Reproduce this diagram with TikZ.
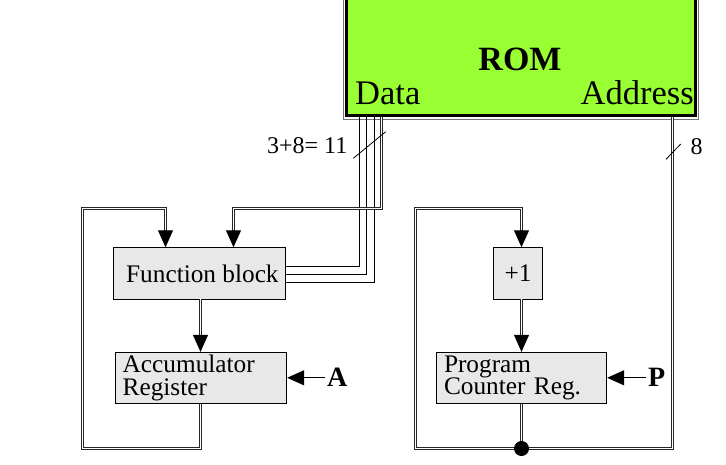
\documentclass[tikz,border=0pt]{standalone}
\usepackage{fontspec}
\setmainfont{Liberation Serif}
\usetikzlibrary{arrows.meta,calc}
\definecolor{romgreen}{RGB}{153,255,51}
\definecolor{boxgray}{RGB}{232,232,232}
\begin{document}
\begin{tikzpicture}[x=1pt,y=-1pt,
  blk/.style={draw=black, line width=0.9pt, fill=boxgray, inner sep=0pt, font=\fontsize{25.3}{22.3}\selectfont},
  bus/.style={draw=black!85, line width=1pt, double=white, double distance=1pt},
  wire/.style={draw=black, line width=1pt},
  tip/.style={line width=1pt, -{Triangle[length=17pt,width=15pt]}},
  lbl/.style={inner sep=0pt, font=\fontsize{24}{24}\selectfont},
  sig/.style={inner sep=0pt, font=\fontsize{28}{28}\selectfont\bfseries},
  slash/.style={draw=black, line width=0.8pt}
  ]
\path[use as bounding box] (0,0) rectangle (726,464);

% ROM
\draw[black!55, line width=0.9pt, fill=white] (343.3,-10) rectangle (698.5,119);
\node[draw=black, line width=3pt, fill=romgreen, minimum width=349.5pt, minimum height=125pt, inner sep=0pt] (rom) at (520.75,52.5) {};
\node[anchor=base, inner sep=0pt, font=\fontsize{34}{34}\selectfont\bfseries] (romlbl) at (520,70) {ROM};
\node[anchor=base west, inner sep=0pt, font=\fontsize{34.5}{34}\selectfont] (datalbl) at (355,104) {Data};
\node[anchor=base east, inner sep=0pt, font=\fontsize{34.5}{34}\selectfont] (addrlbl) at (694,104) {Address};

% blocks
\node[blk, minimum width=171.7pt, minimum height=51.3pt] (fb) at (199.15,273.35) {\hspace*{6.5pt}Function block};
\node[blk, minimum width=171pt, minimum height=51pt, text width=157pt, align=left, inner xsep=7pt] (acc) at (201.2,377.8) {Accumulator\\Register};
\node[blk, minimum width=49.4pt, minimum height=51.3pt] (inc) at (518,273.35) {+1};
\node[blk, minimum width=170.7pt, minimum height=51pt, text width=154.7pt, align=left, inner xsep=8pt] (pc) at (521.35,377.8) {Program\\Counter Reg.};

% columns and rows
\coordinate (cA1) at (165.5,0);
\coordinate (cA2) at (233.5,0);
\coordinate (cAc) at (200.5,0);
\coordinate (cL) at (82.5,0);
\coordinate (cB) at (381.5,0);
\coordinate (c1) at (359.5,0);
\coordinate (c2) at (366.5,0);
\coordinate (c3) at (374.5,0);
\coordinate (cI) at (521.5,0);
\coordinate (cR) at (415.5,0);
\coordinate (cAd) at (672.5,0);
\coordinate (rTop) at (0,208.5);
\coordinate (rBot) at (0,448.5);
\coordinate (junc) at (521.5,448.5);

% arrow bases (16pt above the box tops)
\coordinate (eA1) at ($(fb.north -| cA1)+(0,-16)$);
\coordinate (eA2) at ($(fb.north -| cA2)+(0,-16)$);
\coordinate (eAc) at ($(acc.north -| cAc)+(0,-16)$);
\coordinate (eI) at ($(inc.north -| cI)+(0,-16)$);
\coordinate (eP) at ($(pc.north -| cI)+(0,-16)$);

% data wires
\draw[wire] (rom.south -| c1) |- ([yshift=6.85pt]fb.east);
\draw[wire] (rom.south -| c2) |- ([yshift=-1.15pt]fb.east);
\draw[wire] (rom.south -| c3) |- ([yshift=-9.15pt]fb.east);

% bus ROM -> function block
\draw[bus] (rom.south -| cB) |- (rTop -| cA2) -- (eA2);
\draw[tip] ($(eA2)+(0,-1)$) -- (fb.north -| cA2);

% accumulator feedback loop
\draw[bus] (acc.south -| cAc) |- (rBot -| cL) |- (rTop -| cA1) -- (eA1);
\draw[tip] ($(eA1)+(0,-1)$) -- (fb.north -| cA1);

% function block -> accumulator
\draw[bus] (fb.south -| cAc) -- (eAc);
\draw[tip] ($(eAc)+(0,-1)$) -- (acc.north -| cAc);

% program counter loop
\draw[bus] (pc.south -| cI) -- (junc);
\draw[bus] (rom.south -| cAd) |- (junc);
\draw[bus] (junc) -| (rTop -| cR) -| (eI);
\draw[tip] ($(eI)+(0,-1)$) -- (inc.north -| cI);
\draw[bus] (inc.south -| cI) -- (eP);
\draw[tip] ($(eP)+(0,-1)$) -- (pc.north -| cI);
\node[circle, fill=black, minimum size=15pt, inner sep=0pt] (dot) at (junc) {};

% control signals
\node[sig, anchor=base west] (alab) at (327,386) {A};
\draw[tip, shorten <=2pt] (acc.east -| alab.west) -- (acc.east);
\node[sig, anchor=base west] (plab) at (648,386) {P};
\draw[tip, shorten <=2pt] (pc.east -| plab.west) -- (pc.east);

% bus width marks
\draw[slash] (353.3,158.3) -- (385.7,131.7);
\draw[slash] (666,159.3) -- (680.7,144);
\node[lbl, anchor=base east] (buslbl) at (347.5,153) {3+8= 11};
\node[lbl, anchor=base west] (adlbl) at (690.5,154) {8};
\end{tikzpicture}
\end{document}
